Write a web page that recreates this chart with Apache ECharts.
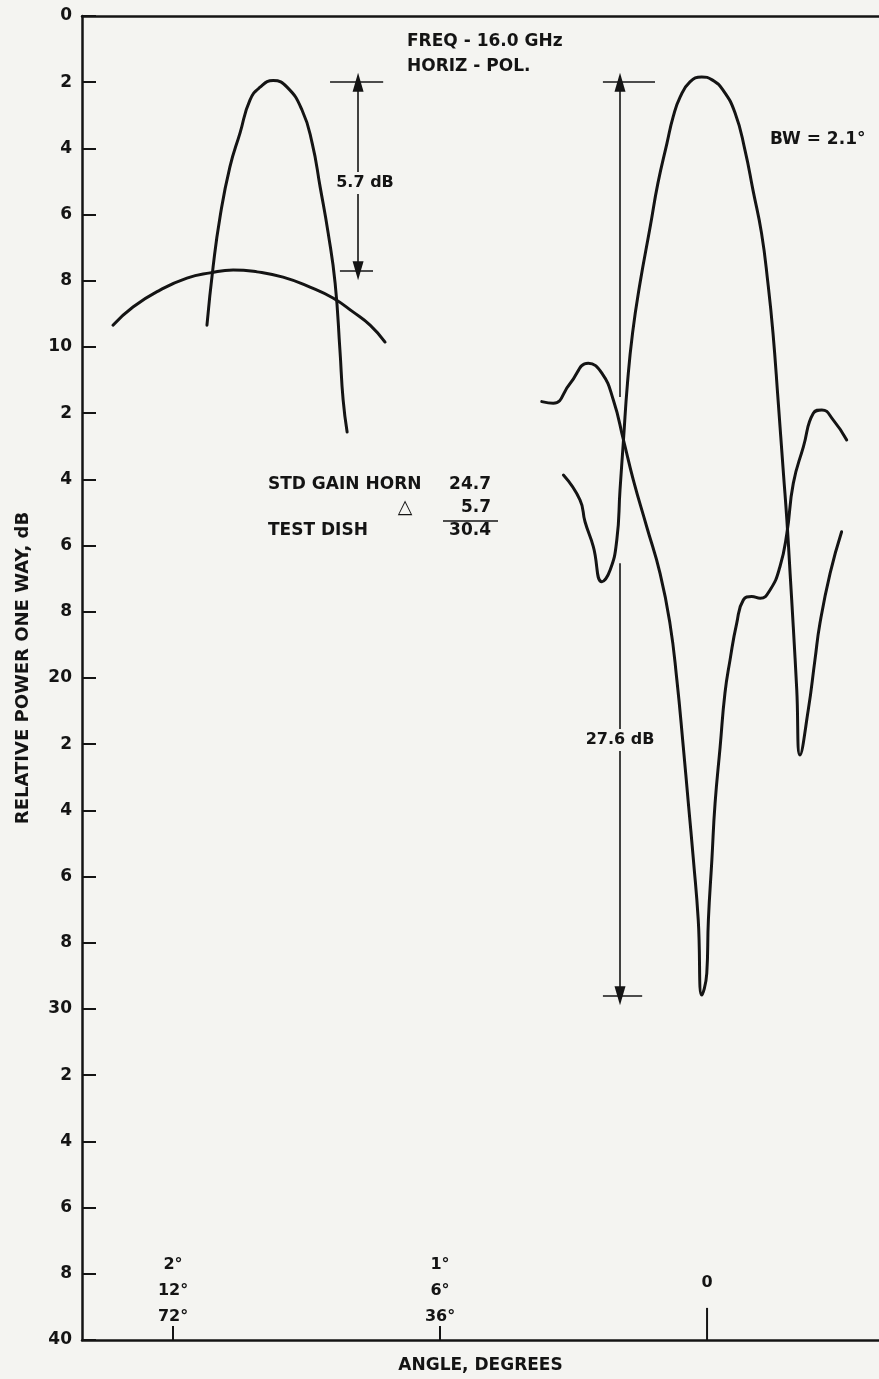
<!DOCTYPE html>
<html>
<head>
<meta charset="utf-8">
<style>
html,body{margin:0;padding:0;background:#f4f4f1;}
#c{width:879px;height:1379px;}
</style>
<script src="https://cdn.jsdelivr.net/npm/echarts@6/dist/echarts.min.js"></script>
</head>
<body>
<div id="c"></div>
<script>
// angle in degrees on the 2°/1°/0 scale (0 at boresight, negative to the left)
const angleTicks = [-2, -1, 0];
const angleTickLabels = { '-2': ['2°', '12°', '72°'], '-1': ['1°', '6°', '36°'], '0': ['0'] };
const dbMin = 0, dbMax = 40, dbStep = 2;

// STD GAIN HORN / TEST DISH comparison (upper left)
const testDish = [
  [-1.873, 9.34], [-1.850, 7.58], [-1.824, 6.07], [-1.787, 4.56], [-1.749, 3.53],
  [-1.712, 2.54], [-1.674, 2.15], [-1.625, 1.95], [-1.573, 2.15], [-1.517, 2.84],
  [-1.479, 3.84], [-1.449, 5.17], [-1.419, 6.56], [-1.393, 8.07], [-1.375, 10.09],
  [-1.363, 11.60], [-1.348, 12.57]
];
const stdHorn = [
  [-2.225, 9.34], [-2.150, 8.79], [-2.049, 8.28], [-1.948, 7.92], [-1.861, 7.76],
  [-1.775, 7.67], [-1.685, 7.73], [-1.588, 7.89], [-1.487, 8.19], [-1.401, 8.52],
  [-1.326, 8.94], [-1.262, 9.34], [-1.206, 9.85]
];
// main beam pattern (BW = 2.1°)
const sumPattern = [
  [-0.538, 13.87], [-0.476, 14.62], [-0.457, 15.28], [-0.426, 16.03], [-0.394, 17.09],
  [-0.363, 16.74], [-0.338, 15.83], [-0.326, 14.32], [-0.313, 12.81], [-0.298, 11.09],
  [-0.279, 9.58], [-0.251, 8.07], [-0.213, 6.37], [-0.184, 5.05], [-0.150, 3.84],
  [-0.127, 3.05], [-0.101, 2.45], [-0.064, 1.99], [-0.020, 1.84], [0.019, 1.93],
  [0.060, 2.24], [0.105, 2.93], [0.142, 4.05], [0.172, 5.26], [0.204, 6.56],
  [0.228, 8.07], [0.247, 9.58], [0.266, 11.60], [0.286, 13.81], [0.299, 15.23],
  [0.311, 16.83], [0.323, 18.46], [0.336, 20.36], [0.348, 22.33], [0.379, 20.97],
  [0.404, 19.46], [0.423, 18.34], [0.461, 16.83], [0.504, 15.58]
];
// null pattern (27.6 dB below the peak)
const diffPattern = [
  [-0.619, 11.65], [-0.576, 11.70], [-0.513, 11.10], [-0.445, 10.49], [-0.394, 10.79],
  [-0.351, 11.60], [-0.313, 12.81], [-0.276, 14.02], [-0.226, 15.43], [-0.176, 16.84],
  [-0.139, 18.35], [-0.113, 20.06], [-0.089, 22.08], [-0.070, 23.79], [-0.051, 25.50],
  [-0.033, 27.31], [-0.020, 29.58], [-0.001, 28.92], [0.005, 27.31], [0.018, 25.50],
  [0.030, 23.79], [0.049, 22.08], [0.067, 20.46], [0.086, 19.46], [0.111, 18.35],
  [0.136, 17.64], [0.167, 17.54], [0.199, 17.59], [0.236, 17.34], [0.273, 16.64],
  [0.299, 15.63], [0.323, 14.12], [0.361, 13.01], [0.398, 12.00], [0.430, 11.90],
  [0.473, 12.21], [0.523, 12.81]
];

const INK = '#141414';
const BG = '#f4f4f1';
const FONT = 'DejaVu Sans';

const chart = echarts.init(document.getElementById('c'), null, { renderer: 'canvas' });

const curve = (name, data) => ({
  name, type: 'line', data, smooth: 0.5, symbol: 'none', silent: true,
  lineStyle: { color: INK, width: 3, cap: 'round', join: 'round' },
  z: 3
});

function arrowSeg(x, y1, y2, tipStart, tipEnd) {
  const s = tipStart ? 'triangle' : 'none';
  const e = tipEnd ? 'triangle' : 'none';
  return [
    { coord: [x, y1], symbol: s, symbolSize: [11, 19] },
    { coord: [x, y2], symbol: e, symbolSize: [11, 19] }
  ];
}
function bar(x1, x2, y) {
  return [{ coord: [x1, y], symbol: 'none' }, { coord: [x2, y], symbol: 'none' }];
}

const txt = (x, y, text, align, size, backed) => ({
  type: 'text', x, y, z: 10,
  style: Object.assign(
    { text, font: 'bold ' + (size || 17) + 'px ' + FONT, fill: INK, align: align || 'left', verticalAlign: 'middle' },
    backed ? { backgroundColor: BG, padding: [3, 2] } : {}
  )
});

const option = {
  backgroundColor: BG,
  animation: false,
  grid: { left: 82, top: 16, right: 0, bottom: 39, containLabel: false, outerBoundsMode: 'none' },
  xAxis: [{
    type: 'value', min: -2.341, max: 0.644,
    name: 'ANGLE, DEGREES', nameLocation: 'middle', nameGap: 17,
    nameTextStyle: { color: INK, fontFamily: FONT, fontSize: 17, fontWeight: 'bold', verticalAlign: 'top' },
    axisLine: { show: true, onZero: false, lineStyle: { color: INK, width: 2.5 } },
    axisTick: { show: true, inside: true, length: 14, customValues: angleTicks.slice(0, 2), lineStyle: { color: INK, width: 2 } },
    axisLabel: {
      show: true, inside: true, margin: 10, customValues: angleTicks,
      verticalAlign: 'bottom',
      formatter: v => {
        const k = String(Math.round(v));
        const lines = angleTickLabels[k] || [];
        if (lines.length === 1) return '{z|' + lines[0] + '}';
        return lines.map(t => '{a|' + t + '}').join('\n');
      },
      rich: {
        a: { color: INK, fontFamily: FONT, fontSize: 16, fontWeight: 'bold', lineHeight: 26, align: 'center' },
        z: { color: INK, fontFamily: FONT, fontSize: 16, fontWeight: 'bold', lineHeight: 94, align: 'center' }
      }
    },
    splitLine: { show: false }
  }, {
    type: 'value', position: 'top', min: -2.341, max: 0.644,
    axisLine: { show: true, onZero: false, lineStyle: { color: INK, width: 2.5 } },
    axisTick: { show: false }, axisLabel: { show: false }, splitLine: { show: false }
  }],
  yAxis: {
    type: 'value', inverse: true, min: dbMin, max: dbMax, interval: dbStep,
    name: 'RELATIVE POWER ONE WAY, dB', nameLocation: 'middle', nameGap: 50, nameRotate: 90,
    nameTextStyle: { color: INK, fontFamily: FONT, fontSize: 18, fontWeight: 'bold', padding: [0, 0, 0, 20] },
    axisLine: { show: true, onZero: false, lineStyle: { color: INK, width: 2.5 } },
    axisTick: { show: true, inside: true, length: 14, lineStyle: { color: INK, width: 2 } },
    axisLabel: {
      color: INK, fontFamily: FONT, fontSize: 17, fontWeight: 'bold', margin: 10,
      showMinLabel: true, showMaxLabel: true,
      formatter: v => (v % 10 === 0 ? String(v) : String(v % 10))
    },
    splitLine: { show: false }
  },
  series: [
    Object.assign(curve('TEST DISH', testDish), {
      markLine: {
        silent: true, animation: false, label: { show: false },
        lineStyle: { color: INK, width: 1.6, type: 'solid' },
        symbol: 'none',
        data: [
          arrowSeg(-1.307, 2.0, 7.7, true, true),
          bar(-1.412, -1.213, 2.0),
          bar(-1.375, -1.251, 7.7),
          arrowSeg(-0.326, 2.0, 11.51, true, false),
          arrowSeg(-0.326, 16.53, 29.6, false, true),
          bar(-0.390, -0.195, 2.0),
          bar(-0.390, -0.243, 29.6)
        ]
      }
    }),
    curve('STD GAIN HORN', stdHorn),
    curve('SUM', sumPattern),
    curve('NULL', diffPattern),
    {
      name: 'zeroTick', type: 'line', silent: true, symbol: 'none',
      data: [[0, 40], [0, 39.03]],
      lineStyle: { color: INK, width: 2 }
    }
  ],
  graphic: [
    txt(407, 42, 'FREQ - 16.0 GHz'),
    txt(407, 67, 'HORIZ - POL.'),
    txt(770, 140, 'BW = 2.1°'),
    txt(365, 183, '5.7 dB', 'center', 16, true),
    txt(620, 740, '27.6 dB', 'center', 16, true),
    txt(268, 485, 'STD GAIN HORN'),
    txt(491, 485, '24.7', 'right'),
    txt(405, 508, '△', 'center', 19),
    txt(491, 508, '5.7', 'right'),
    { type: 'line', shape: { x1: 443, y1: 521, x2: 498, y2: 521 }, style: { stroke: INK, lineWidth: 1.5 } },
    txt(268, 531, 'TEST DISH'),
    txt(491, 531, '30.4', 'right')
  ]
};
chart.setOption(option);
</script>
</body>
</html>
